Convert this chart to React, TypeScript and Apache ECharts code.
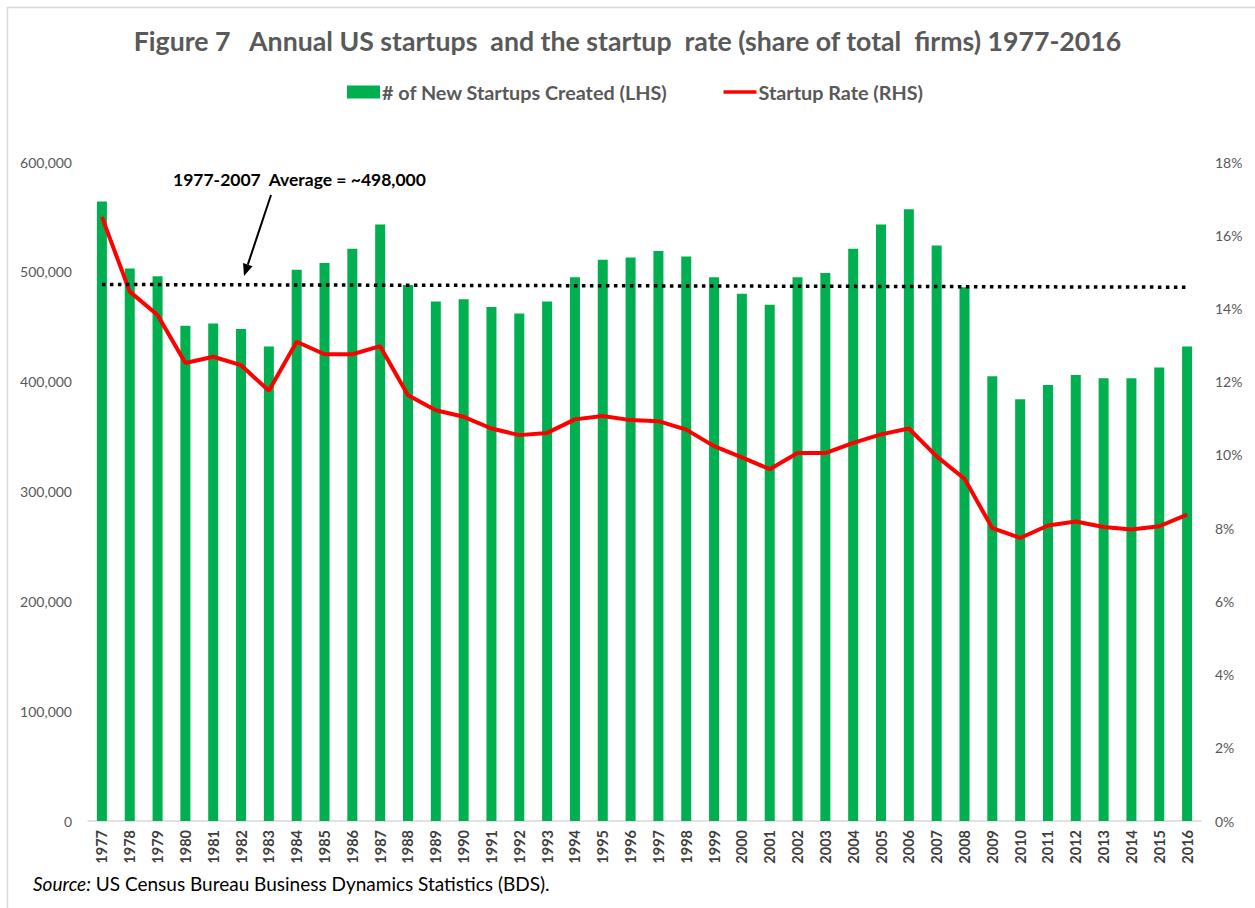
import React, { useEffect, useRef } from "react";
import * as echarts from "echarts";

const years = [
  "1977","1978","1979","1980","1981","1982","1983","1984","1985","1986",
  "1987","1988","1989","1990","1991","1992","1993","1994","1995","1996",
  "1997","1998","1999","2000","2001","2002","2003","2004","2005","2006",
  "2007","2008","2009","2010","2011","2012","2013","2014","2015","2016",
];

const startups = [
  564000, 503000, 496000, 451000, 453000, 448000, 432000, 502000, 508000, 521000,
  543000, 488000, 473000, 475000, 468000, 462000, 473000, 495000, 511000, 513000,
  519000, 514000, 495000, 480000, 470000, 495000, 499000, 521000, 543000, 557000,
  524000, 486000, 405000, 384000, 397000, 406000, 403000, 403000, 413000, 432000,
];

const startupRate = [
  16.5, 14.46, 13.82, 12.51, 12.68, 12.45, 11.75, 13.09, 12.75, 12.75,
  12.97, 11.63, 11.22, 11.04, 10.72, 10.54, 10.6, 10.97, 11.06, 10.95,
  10.92, 10.69, 10.24, 9.93, 9.61, 10.05, 10.05, 10.33, 10.56, 10.72,
  9.96, 9.35, 8.0, 7.73, 8.07, 8.18, 8.03, 7.96, 8.05, 8.37,
];

const avgLineStart = 488500;
const avgLineEnd = 486000;

const leftTicks = { min: 0, max: 600000, interval: 100000 };
const rightTicks = { min: 0, max: 18, interval: 2 };

const TITLE = "Figure 7   Annual US startups  and the startup  rate (share of total  firms) 1977-2016";
const BAR_NAME = "# of New Startups Created (LHS)";
const LINE_NAME = "Startup Rate (RHS)";
const ANNOTATION = "1977-2007  Average = ~498,000";

const FONT = "Lato, 'Open Sans', sans-serif";

export default function App() {
  const ref = useRef<HTMLDivElement>(null);

  useEffect(() => {
    document.body.style.margin = "0";
    const chart = echarts.init(ref.current!, null, { renderer: "svg" });

    // arrow geometry (annotation)
    const tail = [271, 195];
    const tip = [244, 276];
    const dx = tip[0] - tail[0];
    const dy = tip[1] - tail[1];
    const len = Math.sqrt(dx * dx + dy * dy);
    const ux = dx / len, uy = dy / len;
    const headLen = 12, headHalf = 5;
    const bx = tip[0] - ux * headLen, by = tip[1] - uy * headLen;
    const nx = -uy, ny = ux;

    chart.setOption({
      animation: false,
      backgroundColor: "#ffffff",
      textStyle: { fontFamily: FONT },
      title: {
        text: TITLE,
        left: "center",
        top: 22,
        textStyle: { fontFamily: FONT, fontSize: 26.7, fontWeight: "bold", color: "#595959" },
      },
      legend: {
        left: 342,
        top: 77,
        itemGap: 56,
        itemWidth: 33,
        itemHeight: 13,
        symbolKeepAspect: true,
        textStyle: { fontFamily: FONT, fontSize: 19.8, fontWeight: "bold", color: "#595959", padding: [0, 0, 0, -3] },
        data: [
          { name: BAR_NAME, icon: "rect" },
          { name: LINE_NAME, icon: "path://M0,0 L36,0 L36,4 L0,4 Z" },
        ],
      },
      grid: { left: 88, right: 54, top: 162, bottom: 87 },
      xAxis: {
        type: "category",
        data: years,
        axisLine: { show: true, lineStyle: { color: "#D9D9D9", width: 1.5 } },
        axisTick: { show: false },
        axisLabel: {
          rotate: 90,
          interval: 0,
          margin: 9,
          fontFamily: FONT,
          fontSize: 14.5,
          fontWeight: "bold",
          color: "#404040",
        },
      },
      yAxis: [
        {
          type: "value",
          ...leftTicks,
          splitLine: { show: false },
          axisLine: { show: false },
          axisTick: { show: false },
          axisLabel: {
            margin: 16,
            fontFamily: FONT,
            fontSize: 14,
            color: "#595959",
            formatter: (v: number) => v.toLocaleString("en-US"),
          },
        },
        {
          type: "value",
          ...rightTicks,
          position: "right",
          splitLine: { show: false },
          axisLine: { show: false },
          axisTick: { show: false },
          axisLabel: {
            margin: 14,
            fontFamily: FONT,
            fontSize: 14,
            color: "#595959",
            formatter: (v: number) => `${v}%`,
          },
        },
      ],
      series: [
        {
          name: BAR_NAME,
          type: "bar",
          data: startups,
          barWidth: 10,
          itemStyle: { color: "#00B050" },
          yAxisIndex: 0,
          z: 2,
          markLine: {
            silent: true,
            symbol: ["none", "none"],
            label: { show: false },
            lineStyle: { color: "#000000", width: 3.5, type: [3.5, 4.5], cap: "butt" },
            data: [[{ coord: [years[0], avgLineStart] }, { coord: [years[years.length - 1], avgLineEnd] }]],
            z: 5,
          },
        },
        {
          name: LINE_NAME,
          type: "line",
          data: startupRate,
          yAxisIndex: 1,
          symbol: "none",
          lineStyle: { color: "#FF0000", width: 4 },
          itemStyle: { color: "#FF0000" },
          z: 4,
        },
      ],
      graphic: [
        {
          type: "rect",
          shape: { x: 7.5, y: 7.5, width: 1300, height: 1000 },
          style: { fill: "none", stroke: "#D9D9D9", lineWidth: 1.5 },
          silent: true,
        },
        {
          type: "text",
          left: 173,
          top: 170,
          style: {
            text: ANNOTATION,
            fontFamily: FONT,
            fontSize: 17.5,
            fontWeight: "bold",
            fill: "#000000",
          },
        },
        {
          type: "line",
          shape: { x1: tail[0], y1: tail[1], x2: bx, y2: by },
          style: { stroke: "#000000", lineWidth: 2 },
        },
        {
          type: "polygon",
          shape: {
            points: [
              [tip[0], tip[1]],
              [bx + nx * headHalf, by + ny * headHalf],
              [bx - nx * headHalf, by - ny * headHalf],
            ],
          },
          style: { fill: "#000000" },
        },
        {
          type: "text",
          left: 33,
          top: 874,
          style: {
            text: "{i|Source:} US Census Bureau Business Dynamics Statistics (BDS).",
            fontFamily: FONT,
            fontSize: 19,
            fill: "#000000",
            rich: {
              i: { fontFamily: FONT, fontSize: 19, fontStyle: "italic", fill: "#000000" },
            },
          },
        },
      ],
    });

    return () => chart.dispose();
  }, []);

  return (
    <div
      ref={ref}
      style={{ position: "absolute", left: 0, top: 0, width: 1255, height: 908 }}
    />
  );
}
